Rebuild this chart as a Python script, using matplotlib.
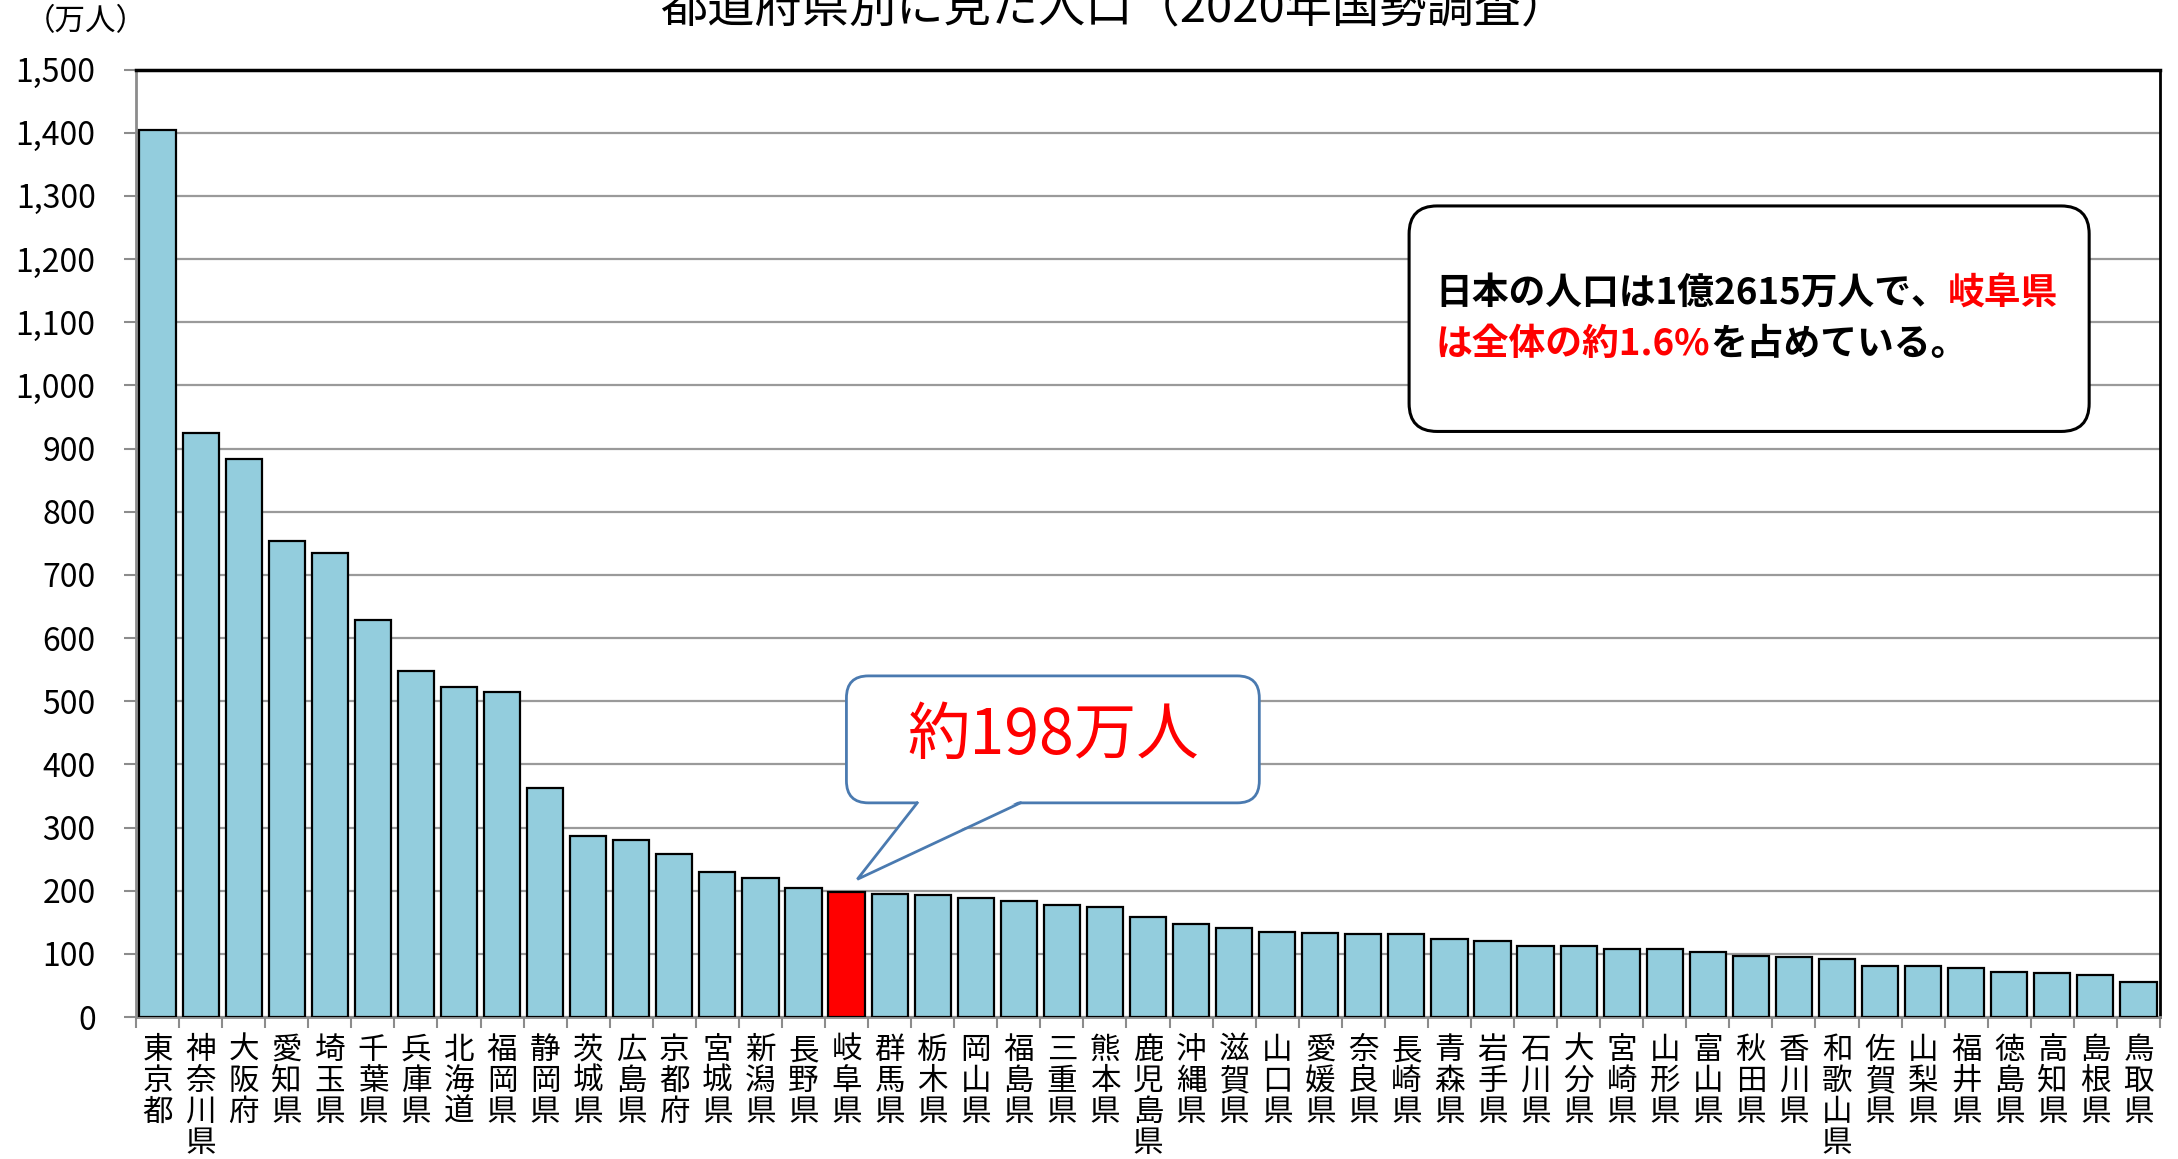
import matplotlib
matplotlib.use("Agg")
import matplotlib.pyplot as plt
from matplotlib.patches import FancyBboxPatch, Polygon
from matplotlib.lines import Line2D
from matplotlib.transforms import IdentityTransform
from matplotlib.ticker import FuncFormatter, FixedLocator

plt.rcParams['font.family'] = ['Noto Sans CJK JP', 'DejaVu Sans']

prefectures = ["東京都", "神奈川県", "大阪府", "愛知県", "埼玉県", "千葉県", "兵庫県", "北海道",
               "福岡県", "静岡県", "茨城県", "広島県", "京都府", "宮城県", "新潟県", "長野県",
               "岐阜県", "群馬県", "栃木県", "岡山県", "福島県", "三重県", "熊本県", "鹿児島県",
               "沖縄県", "滋賀県", "山口県", "愛媛県", "奈良県", "長崎県", "青森県", "岩手県",
               "石川県", "大分県", "宮崎県", "山形県", "富山県", "秋田県", "香川県", "和歌山県",
               "佐賀県", "山梨県", "福井県", "徳島県", "高知県", "島根県", "鳥取県"]
population = [1405, 924, 884, 754, 734, 628, 547, 522, 514, 363, 287, 280, 258, 230, 220, 205,
              198, 194, 193, 189, 183, 177, 174, 159, 147, 141, 134, 133, 132, 131, 124, 121,
              113, 112, 107, 107, 103, 96, 95, 92, 81, 81, 77, 72, 69, 67, 55]
highlight = "岐阜県"
yticks = list(range(0, 1501, 100))

title = "都道府県別に見た人口（2020年国勢調査）"
unit_label = "（万人）"
callout_text = "約198万人"
info_line1 = [("日本の人口は1億2615万人で、", "black"), ("岐阜県", "#FF0000")]
info_line2 = [("は全体の約1.6%", "#FF0000"), ("を占めている。", "black")]

W, H = 2178, 1159
fig = plt.figure(figsize=(W / 100, H / 100), dpi=100)
ax = fig.add_axes([136 / W, 1 - 1017 / H, (2160 - 136) / W, (1017 - 69.5) / H])

x = list(range(len(prefectures)))
colors = ["#FF0000" if p == highlight else "#93CDDD" for p in prefectures]
ax.bar(x, population, width=0.84, color=colors, edgecolor="black", linewidth=1.6, zorder=3)

ax.set_xlim(-0.5, len(prefectures) - 0.5)
ax.set_ylim(0, 1500)
ax.set_yticks(yticks)
ax.yaxis.set_major_formatter(FuncFormatter(lambda v, p: f"{int(v):,}"))
ax.grid(axis="y", color="#9A9A9A", linewidth=1.6, zorder=0)
ax.set_axisbelow(True)

# x ticks at category boundaries, labels at centers
ax.xaxis.set_major_locator(FixedLocator([i - 0.5 for i in range(len(prefectures) + 1)]))
ax.xaxis.set_minor_locator(FixedLocator(x))
ax.set_xticklabels([])
ax.set_xticklabels(["\n".join(p) for p in prefectures], minor=True)
ax.tick_params(axis="x", which="major", length=8, width=1.5, color="#8C8C8C")
ax.tick_params(axis="x", which="minor", length=0, pad=13, labelsize=22)
for lab in ax.get_xticklabels(minor=True):
    lab.set_linespacing(1.0)
    lab.set_verticalalignment("top")
ax.tick_params(axis="y", length=9, width=1.5, color="#8C8C8C", labelsize=23, pad=20)

for s in ["left", "bottom"]:
    ax.spines[s].set_color("#8C8C8C")
    ax.spines[s].set_linewidth(2)
ax.spines["top"].set_color("black")
ax.spines["top"].set_linewidth(2.5)
ax.spines["right"].set_color("black")
ax.spines["right"].set_linewidth(2)

fig.text(1114 / W, 1 - 8 / H, title, ha="center", va="center", fontsize=34)
fig.text(86 / W, 1 - 22 / H, unit_label, ha="center", va="center", fontsize=22)

ident = IdentityTransform()

def ax_px(fx, fy):
    return ax.transAxes.transform((fx, fy))

# info box
(x0, y0) = ax_px(0.629, 0.618)
(x1, y1) = ax_px(0.965, 0.856)
info = FancyBboxPatch((x0, y0), x1 - x0, y1 - y0, boxstyle="round,pad=0,rounding_size=28",
                      transform=ident, facecolor="white", edgecolor="black", linewidth=2.2,
                      zorder=5)
fig.add_artist(info)

renderer = fig.canvas.get_renderer()

def colored_line(parts, fx, fy):
    px, py = ax_px(fx, fy)
    for txt, col in parts:
        t = fig.text(px, py, txt, transform=ident, color=col, fontsize=26.5, fontweight="bold",
                     ha="left", va="center", zorder=6)
        bb = t.get_window_extent(renderer)
        px = bb.x1

colored_line(info_line1, 0.642, 0.764)
colored_line(info_line2, 0.642, 0.710)

# callout
gi = prefectures.index(highlight)
tip = ax.transData.transform((gi + 0.25, population[gi] + 20))
(cx0, cy0) = ax_px(0.351, 0.226)
(cx1, cy1) = ax_px(0.555, 0.360)
edge = "#4A7AB0"
box = FancyBboxPatch((cx0, cy0), cx1 - cx0, cy1 - cy0, boxstyle="round,pad=0,rounding_size=22",
                     transform=ident, facecolor="white", edgecolor=edge, linewidth=2, zorder=5)
fig.add_artist(box)
b1 = ax_px(0.386, 0.226)
b2 = ax_px(0.437, 0.226)
cover = Polygon([(b1[0] + 1, b1[1] + 2), (b2[0] - 1, b2[1] + 2), tip], closed=True,
                transform=ident, facecolor="white", edgecolor="none", zorder=6)
fig.add_artist(cover)
fig.add_artist(Line2D([b1[0], tip[0], b2[0]], [b1[1], tip[1], b2[1]], transform=ident,
                      color=edge, linewidth=2, zorder=7, solid_joinstyle="miter"))
tc = ax_px(0.453, 0.297)
fig.text(tc[0], tc[1], callout_text, transform=ident, color="#FF0000", fontsize=45,
         ha="center", va="center", zorder=8)

fig.savefig("out.png", dpi=100)
